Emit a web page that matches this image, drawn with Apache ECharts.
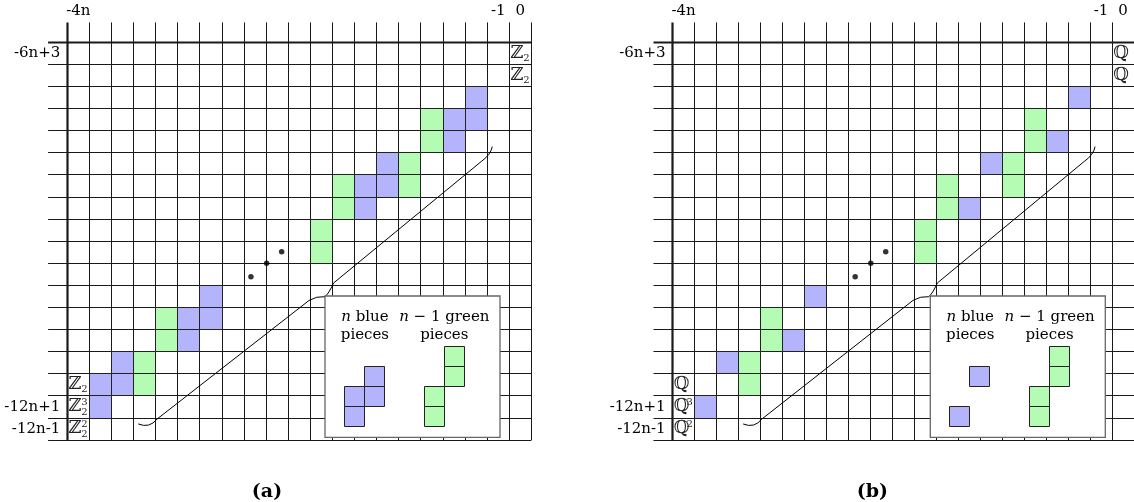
<!DOCTYPE html>
<html>
<head>
<meta charset="utf-8">
<title>n blue pieces, n-1 green pieces</title>
<script src="https://cdn.jsdelivr.net/npm/echarts@6/dist/echarts.min.js"></script>
<style>
  html, body { margin: 0; padding: 0; background: #fff; }
  #chart { width: 1134px; height: 502px; }
</style>
</head>
<body>
<div id="chart"></div>
<script>
// tick labels: 21 columns, 18 rows
const colLabels = ['-4n', '', '', '', '', '', '', '', '', '', '', '', '', '', '', '', '', '', '', '-1', '0'];
const rowLabels = ['-6n+3', '', '', '', '', '', '', '', '', '', '', '', '', '', '', '', '-12n+1', '-12n-1'];

// coloured cells [column, row]
const blueCellsA = [[18, 2], [18, 3], [17, 3], [17, 4], [14, 5], [14, 6], [13, 6], [13, 7],
  [6, 11], [6, 12], [5, 12], [5, 13], [2, 14], [2, 15], [1, 15], [1, 16]];
const blueCellsB = [[18, 2], [17, 4], [14, 5], [13, 7], [6, 11], [5, 13], [2, 14], [1, 16]];
const greenCells = [[16, 3], [16, 4], [15, 5], [15, 6], [12, 6], [12, 7], [11, 8], [11, 9],
  [4, 12], [4, 13], [3, 14], [3, 15]];

// group labels in the cells
const groupCells = [[20, 0], [20, 1], [0, 15], [0, 16], [0, 17]];
const groupBase = ['ℤ', 'ℚ'];
const groupSupA = ['', '', '', '3', '2'];
const groupSubA = ['2', '2', '2', '2', '2'];
const groupSupB = ['', '', '', '3', '2'];
const groupSubB = ['', '', '', '', ''];

// the three dots
const dotPoints = [[8.31, 10.61], [9.02, 10.0], [9.70, 9.48]];

// legend pieces (inset cells)
const insetBlueA = [[1, 1], [0, 2], [1, 2], [0, 3]];
const insetBlueB = [[1, 1], [0, 3]];
const insetGreen = [[5, 0], [5, 1], [4, 2], [4, 3]];
const captionText = ['{i|n} blue\npieces', '{i|n} − 1 green\npieces'];
const panelTags = ['(a)', '(b)'];

// layout
const COLS = colLabels.length;
const ROWS = rowLabels.length;
const CELL = 22.1;
const GRID_TOP = 42.3;
const GRID_LEFT = [67.3, 672.6];
const INSET_DX = 277, INSET_DY = 304.4, INSET_CELL = 20;
const STUB_TOP = -0.9, STUB_LEFT = -0.87;
const SERIF = "'DejaVu Serif', 'DejaVu Sans', serif";
const BLUE = '#b4b4fc', GREEN = '#b4fcb4', INK = '#000';

// brace from the lower-left arm to the upper-right arm, tip on the inset corner
const bracePath = [
  ['M', 3.21, 17.27],
  ['Q', 3.72, 17.48, 4.06, 17.05],
  ['L', 10.94, 11.68],
  ['Q', 11.28, 11.48, 11.66, 11.51],
  ['Q', 11.82, 11.39, 12.05, 10.89],
  ['L', 18.76, 5.37],
  ['Q', 19.15, 5.10, 19.23, 4.72]
];
const insetBox = [[-0.965, -2.535], [7.785, 4.53]];
const captionPos = [[1.03, -1.04], [5.0, -1.04]];

const gridLineData = [];
for (let k = 0; k <= COLS; k++) gridLineData.push([0, k]);
for (let k = 0; k <= ROWS; k++) gridLineData.push([1, k]);

// snap a 1px stroke onto the pixel grid
const crisp = v => Math.round(v - 0.5) + 0.5;

function renderGridLine(params, api) {
  const dir = api.value(0), k = api.value(1);
  let a, b;
  if (dir === 0) {
    a = api.coord([k, STUB_TOP]);
    b = api.coord([k, ROWS]);
    a[0] = b[0] = crisp(a[0]);
  } else {
    a = api.coord([STUB_LEFT, k]);
    b = api.coord([COLS, k]);
    a[1] = b[1] = crisp(a[1]);
  }
  return {
    type: 'line',
    shape: {x1: a[0], y1: a[1], x2: b[0], y2: b[1]},
    style: {stroke: '#1a1a1a', lineWidth: k === 0 ? 2.2 : 1}
  };
}

function cellRenderer(color) {
  return function (params, api) {
    const c = api.value(0), r = api.value(1);
    const tl = api.coord([c, r]);
    const br = api.coord([c + 1, r + 1]);
    const x0 = crisp(tl[0]), y0 = crisp(tl[1]);
    return {
      type: 'rect',
      shape: {x: x0, y: y0, width: crisp(br[0]) - x0, height: crisp(br[1]) - y0},
      style: {fill: color, stroke: '#222', lineWidth: 1}
    };
  };
}

function groupLabelRenderer(base, sups, subs) {
  return function (params, api) {
    const i = params.dataIndex;
    const c = api.value(0), r = api.value(1);
    const tl = api.coord([c, r]);
    const br = api.coord([c + 1, r + 1]);
    const cy = (tl[1] + br[1]) / 2;
    const children = [{
      type: 'text', x: tl[0] + 1.2, y: cy - 0.5,
      style: {text: base, font: '18px ' + SERIF, fill: '#222', align: 'left', verticalAlign: 'middle'}
    }];
    if (sups[i]) {
      children.push({
        type: 'text', x: tl[0] + 14, y: cy - 4.5,
        style: {text: sups[i], font: '10px ' + SERIF, fill: '#222', align: 'left', verticalAlign: 'middle'}
      });
    }
    if (subs[i]) {
      children.push({
        type: 'text', x: tl[0] + 14, y: cy + 5,
        style: {text: subs[i], font: '10px ' + SERIF, fill: '#222', align: 'left', verticalAlign: 'middle'}
      });
    }
    return {type: 'group', children: children};
  };
}

function renderBrace(params, api) {
  const style = {stroke: INK, lineWidth: 1, fill: 'none'};
  const children = [];
  let cur = null;
  bracePath.forEach(function (seg) {
    if (seg[0] === 'M') {
      cur = api.coord([seg[1], seg[2]]);
    } else if (seg[0] === 'L') {
      const p = api.coord([seg[1], seg[2]]);
      children.push({type: 'line', shape: {x1: cur[0], y1: cur[1], x2: p[0], y2: p[1]}, style: style});
      cur = p;
    } else {
      const cp = api.coord([seg[1], seg[2]]);
      const p = api.coord([seg[3], seg[4]]);
      children.push({
        type: 'bezierCurve',
        shape: {x1: cur[0], y1: cur[1], x2: p[0], y2: p[1], cpx1: cp[0], cpy1: cp[1]},
        style: style
      });
      cur = p;
    }
  });
  return {type: 'group', children: children};
}

function renderBox(params, api) {
  const a = api.coord(insetBox[0]);
  const b = api.coord(insetBox[1]);
  return {
    type: 'rect',
    shape: {x: a[0], y: a[1], width: b[0] - a[0], height: b[1] - a[1]},
    style: {fill: '#fff', stroke: '#666', lineWidth: 1.3}
  };
}

function renderCaption(params, api) {
  const i = params.dataIndex;
  const p = api.coord([api.value(0), api.value(1)]);
  return {
    type: 'text', x: p[0], y: p[1],
    style: {
      text: captionText[i], font: '15px ' + SERIF, fill: INK,
      align: 'center', verticalAlign: 'middle', lineHeight: 18,
      rich: {i: {fontStyle: 'italic', fontFamily: SERIF, fontSize: 15, lineHeight: 18}}
    }
  };
}

const grids = [], xAxes = [], yAxes = [], series = [];

GRID_LEFT.forEach(function (left) {
  grids.push({left: left, top: GRID_TOP, width: COLS * CELL, height: ROWS * CELL});
});
GRID_LEFT.forEach(function (left) {
  grids.push({left: left + INSET_DX, top: GRID_TOP + INSET_DY, width: 6 * INSET_CELL, height: 4 * INSET_CELL});
});

[0, 1].forEach(function (p) {
  xAxes.push({
    gridIndex: p, type: 'category', position: 'top', data: colLabels,
    axisLine: {show: false}, axisTick: {show: false}, splitLine: {show: false},
    axisLabel: {interval: 0, margin: 24, fontFamily: SERIF, fontSize: 15, color: INK}
  });
  xAxes.push({gridIndex: p, type: 'value', position: 'bottom', min: 0, max: COLS, show: false});
  yAxes.push({
    gridIndex: p, type: 'category', inverse: true, data: rowLabels,
    axisLine: {show: false}, axisTick: {show: false}, splitLine: {show: false},
    axisLabel: {interval: 0, margin: 7, fontFamily: SERIF, fontSize: 15, color: INK}
  });
  yAxes.push({gridIndex: p, type: 'value', position: 'right', min: 0, max: ROWS, inverse: true, show: false});
});
[0, 1].forEach(function (p) {
  xAxes.push({gridIndex: 2 + p, type: 'value', min: 0, max: 6, show: false});
  yAxes.push({gridIndex: 2 + p, type: 'value', min: 0, max: 4, inverse: true, show: false});
});

const blueCells = [blueCellsA, blueCellsB];
const groupSups = [groupSupA, groupSupB];
const groupSubs = [groupSubA, groupSubB];
const insetBlue = [insetBlueA, insetBlueB];

[0, 1].forEach(function (p) {
  const vx = 2 * p + 1, vy = 2 * p + 1, ix = 4 + p;
  series.push({type: 'custom', xAxisIndex: vx, yAxisIndex: vy, clip: false, silent: true, z: 1,
    data: gridLineData, renderItem: renderGridLine});
  series.push({type: 'custom', xAxisIndex: vx, yAxisIndex: vy, clip: false, silent: true, z: 2,
    data: blueCells[p], renderItem: cellRenderer(BLUE)});
  series.push({type: 'custom', xAxisIndex: vx, yAxisIndex: vy, clip: false, silent: true, z: 2,
    data: greenCells, renderItem: cellRenderer(GREEN)});
  series.push({type: 'custom', xAxisIndex: vx, yAxisIndex: vy, clip: false, silent: true, z: 3,
    data: groupCells, renderItem: groupLabelRenderer(groupBase[p], groupSups[p], groupSubs[p])});
  series.push({type: 'scatter', xAxisIndex: vx, yAxisIndex: vy, silent: true, z: 3,
    symbolSize: 5.5, itemStyle: {color: INK}, data: dotPoints});
  series.push({type: 'custom', xAxisIndex: vx, yAxisIndex: vy, clip: false, silent: true, z: 4,
    data: [[0, 0]], renderItem: renderBrace});
  series.push({type: 'custom', xAxisIndex: ix, yAxisIndex: ix, clip: false, silent: true, z: 5,
    data: [[0, 0]], renderItem: renderBox});
  series.push({type: 'custom', xAxisIndex: ix, yAxisIndex: ix, clip: false, silent: true, z: 6,
    data: insetBlue[p], renderItem: cellRenderer(BLUE)});
  series.push({type: 'custom', xAxisIndex: ix, yAxisIndex: ix, clip: false, silent: true, z: 6,
    data: insetGreen, renderItem: cellRenderer(GREEN)});
  series.push({type: 'custom', xAxisIndex: ix, yAxisIndex: ix, clip: false, silent: true, z: 6,
    data: captionPos, renderItem: renderCaption});
});

const chart = echarts.init(document.getElementById('chart'));
chart.setOption({
  animation: false,
  backgroundColor: '#fff',
  grid: grids,
  xAxis: xAxes,
  yAxis: yAxes,
  graphic: panelTags.map(function (t, p) {
    return {
      type: 'text', x: GRID_LEFT[p] + 199.7, y: 492,
      style: {text: t, font: 'bold 19px ' + SERIF, fill: INK, align: 'center', verticalAlign: 'middle'}
    };
  }),
  series: series
});
</script>
</body>
</html>
